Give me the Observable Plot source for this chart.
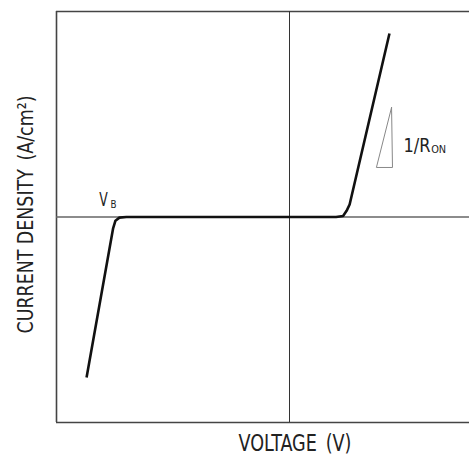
<!DOCTYPE html>
<html><head><meta charset="utf-8">
<script src="https://cdn.jsdelivr.net/npm/d3@7"></script>
<script src="https://cdn.jsdelivr.net/npm/@observablehq/plot@0.6"></script>
<style>body{margin:0;background:#fff}</style>
</head><body><div id="chart"></div>
<script>
// I-V characteristic (schematic)
const voltage = [-8.71, -7.57, -7.47, -7.30, -7.00, 2.00, 2.30, 2.45, 2.58, 4.29];
const current = [-7.81, -0.55, -0.18, -0.03, 0, 0, 0.05, 0.30, 0.61, 8.93];
// slope triangle (1/R_ON)
const triV = [4.38, 3.73, 4.42, 4.38];
const triJ = [5.33, 2.41, 2.41, 5.33];
const xLabel = "VOLTAGE\u2002(V)";
const yLabel = "CURRENT DENSITY\u2002(A/cm\u00B2)";
const ronMain = "1/R", ronSub = "ON";
const vbMain = "V", vbSub = "B";

const curve = voltage.map((v, i) => ({v, j: current[i]}));
const tri = triV.map((v, i) => ({v, j: triJ[i]}));
const font = "'DejaVu Sans Condensed', 'DejaVu Sans', sans-serif";

const chart = Plot.plot({
  width: 469, height: 457,
  marginLeft: 56, marginRight: 0, marginTop: 11, marginBottom: 35,
  x: {domain: [-10, 7.725], axis: null},
  y: {domain: [-10, 10], axis: null},
  style: {background: "#fff", fontFamily: font, color: "#222"},
  marks: [
    Plot.ruleY([10], {stroke: "#444", strokeWidth: 1.6}),
    Plot.ruleY([-10], {stroke: "#444", strokeWidth: 1.6}),
    Plot.ruleX([-10], {stroke: "#444", strokeWidth: 1.6}),
    Plot.ruleY([0], {stroke: "#666", strokeWidth: 1.6}),
    Plot.ruleX([0], {stroke: "#333", strokeWidth: 1}),
    Plot.line(tri, {x: "v", y: "j", stroke: "#888", strokeWidth: 1}),
    Plot.line(curve, {x: "v", y: "j", stroke: "#111", strokeWidth: 2.6, strokeLinejoin: "round", strokeLinecap: "butt"}),
    Plot.text([xLabel], {x: -2.19, frameAnchor: "bottom", dy: 21.5, fontSize: 23, textAnchor: "start", lineAnchor: "middle", fill: "#222"}),
    Plot.text([yLabel], {y: -5.67, frameAnchor: "left", dx: -31, rotate: -90, fontSize: 22, textAnchor: "start", lineAnchor: "middle", fill: "#222"}),
    Plot.text([ronMain], {x: 4.89, y: 3.48, textAnchor: "start", fontSize: 19, fill: "#222"}),
    Plot.text([ronSub], {x: 6.08, y: 3.30, textAnchor: "start", fontSize: 11, fill: "#222"}),
    Plot.text([vbMain], {x: -8.17, y: 0.83, textAnchor: "start", fontSize: 19, fill: "#222"}),
    Plot.text([vbSub], {x: -7.68, y: 0.60, textAnchor: "start", fontSize: 10, fill: "#222"})
  ]
});

const lengths = {};
lengths[xLabel] = 113; lengths[yLabel] = 238;
lengths[ronMain] = 27; lengths[ronSub] = 15;
lengths[vbMain] = 8.5; lengths[vbSub] = 6;
d3.select(chart).selectAll("text").each(function() {
  const L = lengths[this.textContent];
  if (L) { this.setAttribute("textLength", L); this.setAttribute("lengthAdjust", "spacingAndGlyphs"); }
});
document.getElementById("chart").appendChild(chart);
</script>
</body></html>
